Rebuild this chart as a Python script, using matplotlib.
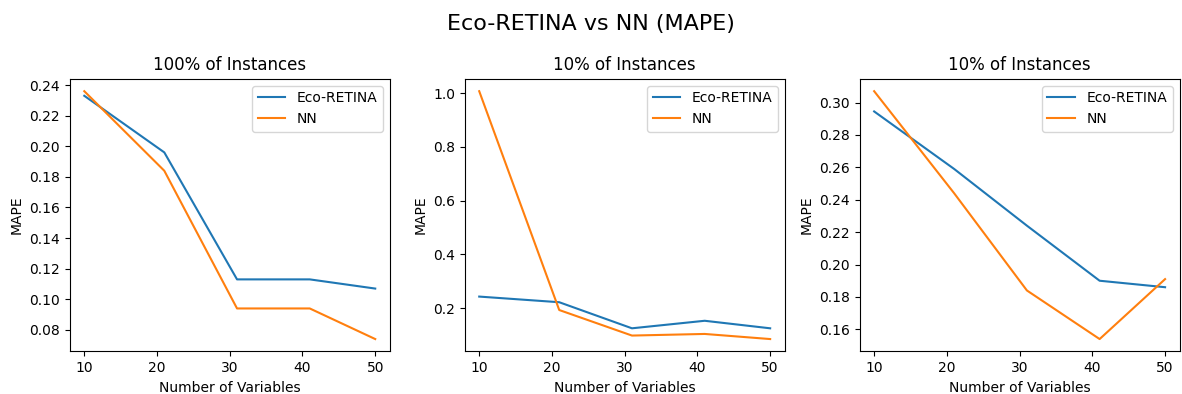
import matplotlib
matplotlib.use("Agg")
import matplotlib.pyplot as plt

num_vars = [10, 21, 31, 41, 50]

titles = ["100% of Instances", "10% of Instances", "10% of Instances"]

eco_retina = [
    [0.233, 0.196, 0.113, 0.113, 0.107],
    [0.243, 0.222, 0.125, 0.153, 0.125],
    [0.2945, 0.259, 0.224, 0.190, 0.186],
]
nn = [
    [0.236, 0.184, 0.094, 0.094, 0.074],
    [1.007, 0.193, 0.098, 0.104, 0.085],
    [0.307, 0.244, 0.184, 0.154, 0.191],
]

fig, axes = plt.subplots(1, 3, figsize=(11.82, 3.94), dpi=100)
fig.suptitle("Eco-RETINA vs NN (MAPE)", fontsize=16, y=0.965)

for i, ax in enumerate(axes):
    ax.plot(num_vars, eco_retina[i], label="Eco-RETINA")
    ax.plot(num_vars, nn[i], label="NN")
    ax.set_title(titles[i])
    ax.set_xlabel("Number of Variables")
    ax.set_ylabel("MAPE")
    ax.legend(loc="upper right")

# match the reference margins
plt.subplots_adjust(left=0.059, right=0.998, top=0.80, bottom=0.108, wspace=0.234)
plt.savefig("out.png")
